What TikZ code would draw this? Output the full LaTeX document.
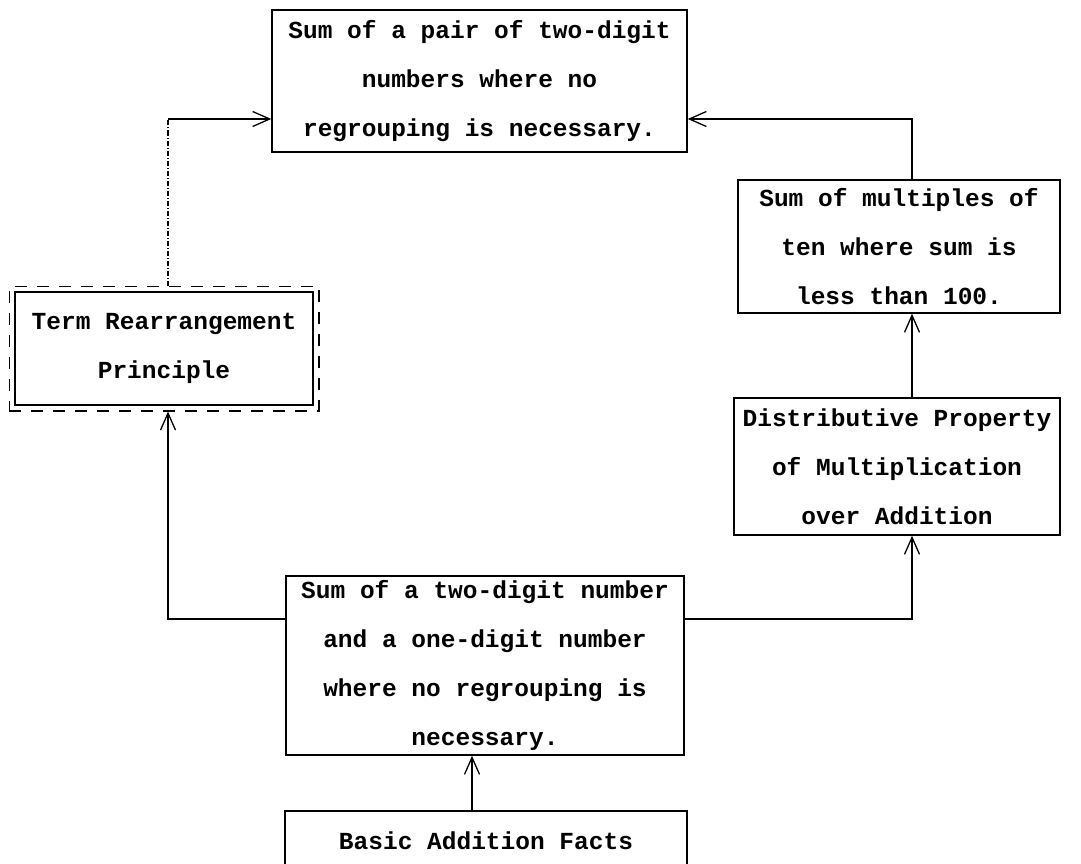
\documentclass[tikz,border=0pt]{standalone}
\usepackage{fontspec}
\setmainfont{Liberation Mono}
\usetikzlibrary{arrows.meta,fit}

\begin{document}
\begin{tikzpicture}[x=1pt,y=-1pt,
  box/.style={draw,line width=1.5pt,inner sep=0pt,align=center,
    font=\bfseries\fontsize{24.5}{49}\selectfont},
  link/.style={line width=1.3pt},
  >={Straight Barb[length=17pt,width=15pt,line width=1.3pt]}]
\useasboundingbox(0,0)rectangle(1081,864);
\clip(0,0)rectangle(1081,864);
\node[box,minimum width=415,minimum height=142](top)at(479.5,81)
  {Sum of a pair of two-digit\\numbers where no\\regrouping is necessary.};
\node[box,minimum width=322,minimum height=133](multiples)at(899,246.5)
  {Sum of multiples of\\ten where sum is\\less than 100.};
\node[box,minimum width=298,minimum height=113](term)at(164,348.5)
  {Term Rearrangement\\Principle};
\node[draw,line width=1.5pt,dash pattern=on 12pt off 10pt,inner sep=5pt,fit=(term)](termframe){};
\node[box,minimum width=326,minimum height=137](distrib)at(897,466.5)
  {Distributive Property\\of Multiplication\\over Addition};
\node[box,minimum width=398,minimum height=179](twoone)at(485,665.5)
  {Sum of a two-digit number\\and a one-digit number\\where no regrouping is\\necessary.};
\node[box,minimum width=402,minimum height=60,anchor=north](basic)at(486,810)
  {Basic Addition Facts};
\coordinate(lx)at(168,119);
\coordinate(rx)at(912,119);
\coordinate(my)at(0,619);
\coordinate(bx)at(472,0);
\draw[link,dash pattern=on 5pt off 2pt on 1pt off 2pt](termframe.north -| lx)--(lx);
\draw[link,->](lx)--(top.west |- lx);
\draw[link,->](multiples.north -| rx)--(rx)--(top.east |- rx);
\draw[link,->](distrib.north -| rx)--(multiples.south -| rx);
\draw[link,->](twoone.east |- my)-|(distrib.south -| rx);
\draw[link,->](twoone.west |- my)-|(termframe.south -| lx);
\draw[link,->](basic.north -| bx)--(twoone.south -| bx);
\end{tikzpicture}
\end{document}
